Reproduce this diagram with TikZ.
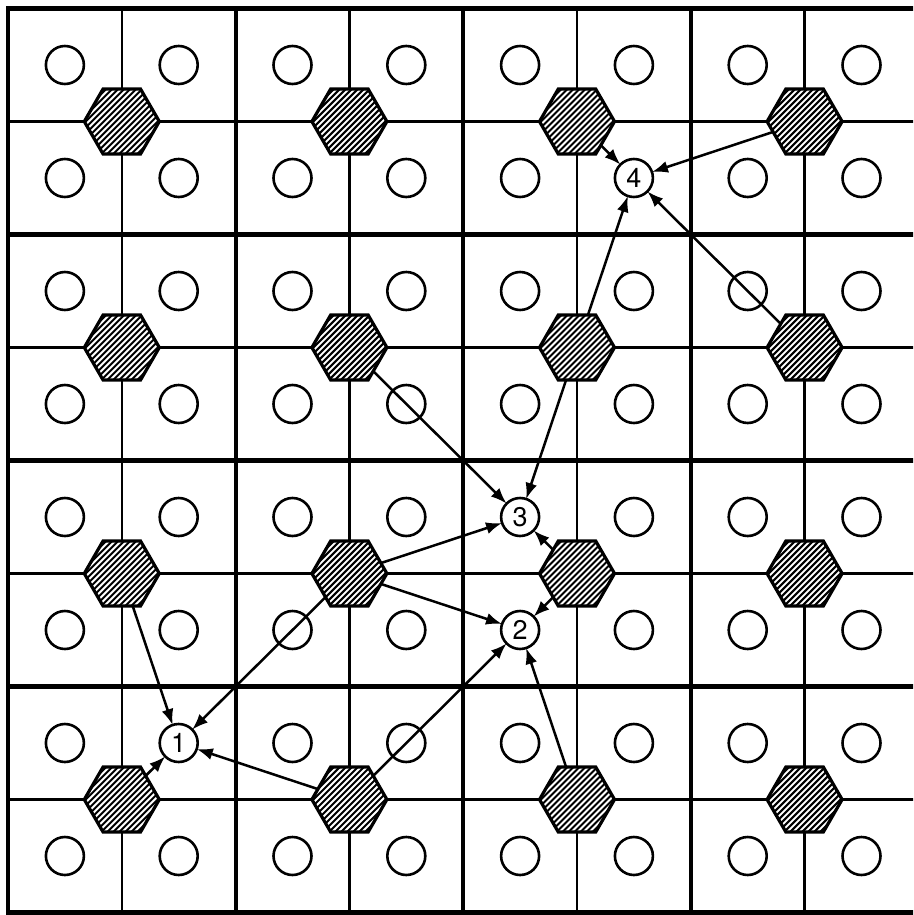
\documentclass[tikz,border=0pt]{standalone}
\usepackage{fontspec}
\setsansfont{TeX Gyre Heros}
\usetikzlibrary{shapes.geometric,arrows.meta}
\begin{document}
\begin{tikzpicture}[x=1pt,y=-1pt,
  thingrid/.style={line width=2.5pt},
  thickgrid/.style={line width=4.2pt},
  borderline/.style={line width=4.8pt},
  site/.style={circle,draw,line width=2.6pt,minimum size=38pt,inner sep=0pt,outer sep=0pt},
  numsite/.style={site,fill=white,font=\sffamily\fontsize{27}{27}\selectfont},
  hexcell/.style={regular polygon,regular polygon sides=6,minimum size=75pt,
    draw,line width=3.2pt,fill=white,inner sep=0pt,outer sep=0pt,
    path picture={\foreach \k in {-84,-78,...,85}{
      \draw[line width=2pt] ([xshift=\k pt]path picture bounding box.center)
        ++(-50pt,-50pt) -- ++(100pt,100pt);}}},
  arr/.style={line width=2.5pt,-{Latex[length=16pt,width=12pt]}}
]
\useasboundingbox (0,0) rectangle (913,915);
\clip (0,0) rectangle (913,915);
% grid
\foreach \i in {1,3,5,7}{
  \draw[thingrid] ({8+113.8*\i},8.5) -- ({8+113.8*\i},912.5);
  \draw[thingrid] (8,{8.5+113*\i}) -- (918.4,{8.5+113*\i});
}
\foreach \i in {2,4,6}{
  \draw[thickgrid] ({8+113.8*\i},8.5) -- ({8+113.8*\i},912.5);
  \draw[thickgrid] (8,{8.5+113*\i}) -- (918.4,{8.5+113*\i});
}
\draw[borderline] (8,8.5) rectangle (918.4,912.5);
% small circles
\foreach \c in {0,...,7}{
  \foreach \r in {0,...,7}{
    \pgfmathtruncatemacro\skipit{((\c==5)&&(\r==1))||((\c==4)&&(\r==4))||((\c==4)&&(\r==5))||((\c==1)&&(\r==6))}
    \ifnum\skipit=0
      \node[site] (s\c\r) at ({8+113.8*(\c+0.5)},{8.5+113*(\r+0.5)}) {};
    \fi
  }
}
% numbered sites
\node[numsite] (n4) at ({8+113.8*5.5},{8.5+113*1.5}) {4};
\node[numsite] (n3) at ({8+113.8*4.5},{8.5+113*4.5}) {3};
\node[numsite] (n2) at ({8+113.8*4.5},{8.5+113*5.5}) {2};
\node[numsite] (n1) at ({8+113.8*1.5},{8.5+113*6.5}) {1};
% hexagons
\foreach \c in {0,...,3}{
  \foreach \r in {0,...,3}{
    \node[hexcell] (h\c\r) at ({8+113.8*(2*\c+1)},{8.5+113*(2*\r+1)}) {};
  }
}
% arrows
\draw[arr] (h20) -- (n4);
\draw[arr] (h30) -- (n4);
\draw[arr] (h31) -- (n4);
\draw[arr] (h21) -- (n4);
\draw[arr] (h21) -- (n3);
\draw[arr] (h11) -- (n3);
\draw[arr] (h12) -- (n3);
\draw[arr] (h12) -- (n2);
\draw[arr] (h12) -- (n1);
\draw[arr] (h22) -- (n3);
\draw[arr] (h22) -- (n2);
\draw[arr] (h23) -- (n2);
\draw[arr] (h13) -- (n2);
\draw[arr] (h13) -- (n1);
\draw[arr] (h02) -- (n1);
\draw[arr] (h03) -- (n1);
\end{tikzpicture}
\end{document}
